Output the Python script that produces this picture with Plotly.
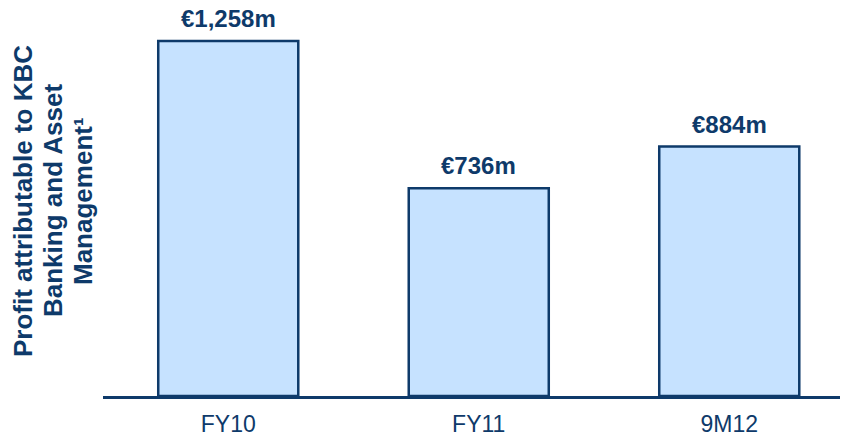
import plotly.graph_objects as go

categories = ["FY10", "FY11", "9M12"]
values = [1258, 736, 884]
labels = ["€1,258m", "€736m", "€884m"]
ytitle_lines = ["Profit attributable to KBC", "Banking and Asset", "Management¹"]

NAVY = "#0E3A6A"
FILL = "#C6E2FF"

# page body has an 8px margin, so the figure is 840x430 starting at (8, 8)
W, H = 840, 430
L, B = 95, 42
PH = H - B  # plot height

fig = go.Figure()
fig.add_trace(go.Bar(
    x=categories, y=values, width=0.559,
    marker=dict(color=FILL, line=dict(color=NAVY, width=2.5)),
    hoverinfo="skip",
))

for c, v, t in zip(categories, values, labels):
    fig.add_annotation(x=c, y=v, text=f"<b>{t}</b>", showarrow=False,
                       yanchor="bottom", yshift=8, borderpad=0,
                       font=dict(family="Liberation Sans, Arial", size=24, color=NAVY))

xs_px = [15, 45, 75]
for line, xp in zip(ytitle_lines, xs_px):
    fig.add_annotation(xref="paper", yref="paper",
                       x=(xp - L) / (W - L), y=(PH - 193) / PH,
                       text=f"<b>{line}</b>", textangle=-90, showarrow=False,
                       xanchor="center", yanchor="middle",
                       font=dict(family="Liberation Sans, Arial", size=26, color=NAVY))

fig.update_layout(
    width=W, height=H,
    margin=dict(l=L, r=0, t=0, b=B),
    paper_bgcolor="white", plot_bgcolor="white",
    showlegend=False,
    font=dict(family="Liberation Sans, Arial", color=NAVY),
    xaxis=dict(range=[-0.5, 2.474], showline=True, linecolor=NAVY, linewidth=2.5,
               showgrid=False, zeroline=False, ticks="",
               tickfont=dict(size=23, color=NAVY), ticklabelstandoff=6),
    yaxis=dict(range=[0, PH / 0.2822], visible=False, showgrid=False, zeroline=False),
)

fig.write_html("out.html")
